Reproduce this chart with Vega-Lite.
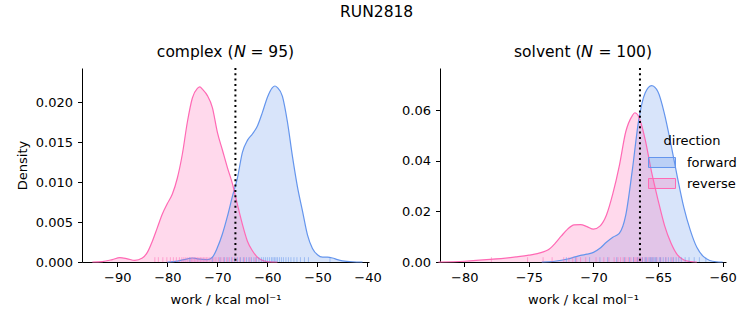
{
  "$schema": "https://vega.github.io/schema/vega-lite/v6.json",
  "padding": {"left": 16, "top": 5, "right": 5, "bottom": 5},
  "title": {"text": "RUN2818", "fontSize": 15.5, "fontWeight": "normal", "font": "DejaVu Sans", "color": "black", "anchor": "middle", "offset": 24},
  "datasets": {
    "curves": [
      {"panel": "complex", "direction": "forward", "work": -80, "density": 0},
      {"panel": "complex", "direction": "forward", "work": -78, "density": 0.0001},
      {"panel": "complex", "direction": "forward", "work": -76, "density": 0.0004},
      {"panel": "complex", "direction": "forward", "work": -75, "density": 0.0005},
      {"panel": "complex", "direction": "forward", "work": -74, "density": 0.0004},
      {"panel": "complex", "direction": "forward", "work": -72, "density": 0.0003},
      {"panel": "complex", "direction": "forward", "work": -71, "density": 0.0006},
      {"panel": "complex", "direction": "forward", "work": -70, "density": 0.0018},
      {"panel": "complex", "direction": "forward", "work": -69, "density": 0.0035},
      {"panel": "complex", "direction": "forward", "work": -68, "density": 0.0057},
      {"panel": "complex", "direction": "forward", "work": -67, "density": 0.0082},
      {"panel": "complex", "direction": "forward", "work": -66, "density": 0.0105},
      {"panel": "complex", "direction": "forward", "work": -65, "density": 0.0137},
      {"panel": "complex", "direction": "forward", "work": -64, "density": 0.0152},
      {"panel": "complex", "direction": "forward", "work": -63, "density": 0.016},
      {"panel": "complex", "direction": "forward", "work": -62, "density": 0.017},
      {"panel": "complex", "direction": "forward", "work": -61, "density": 0.0187},
      {"panel": "complex", "direction": "forward", "work": -60, "density": 0.0206},
      {"panel": "complex", "direction": "forward", "work": -59, "density": 0.0218},
      {"panel": "complex", "direction": "forward", "work": -58.5, "density": 0.022},
      {"panel": "complex", "direction": "forward", "work": -58, "density": 0.0218},
      {"panel": "complex", "direction": "forward", "work": -57, "density": 0.0207},
      {"panel": "complex", "direction": "forward", "work": -56, "density": 0.0175},
      {"panel": "complex", "direction": "forward", "work": -55, "density": 0.0132},
      {"panel": "complex", "direction": "forward", "work": -54, "density": 0.0094},
      {"panel": "complex", "direction": "forward", "work": -53, "density": 0.0064},
      {"panel": "complex", "direction": "forward", "work": -52, "density": 0.0034},
      {"panel": "complex", "direction": "forward", "work": -51, "density": 0.0017},
      {"panel": "complex", "direction": "forward", "work": -50, "density": 0.0009},
      {"panel": "complex", "direction": "forward", "work": -49, "density": 0.0006},
      {"panel": "complex", "direction": "forward", "work": -48, "density": 0.0006},
      {"panel": "complex", "direction": "forward", "work": -47, "density": 0.0005},
      {"panel": "complex", "direction": "forward", "work": -46, "density": 0.0003},
      {"panel": "complex", "direction": "forward", "work": -45, "density": 0.00015},
      {"panel": "complex", "direction": "forward", "work": -43, "density": 0.00003},
      {"panel": "complex", "direction": "forward", "work": -41, "density": 0},
      {"panel": "complex", "direction": "reverse", "work": -95, "density": 0},
      {"panel": "complex", "direction": "reverse", "work": -93, "density": 0.00005},
      {"panel": "complex", "direction": "reverse", "work": -91, "density": 0.0003},
      {"panel": "complex", "direction": "reverse", "work": -89.5, "density": 0.00055},
      {"panel": "complex", "direction": "reverse", "work": -88, "density": 0.0004},
      {"panel": "complex", "direction": "reverse", "work": -86.5, "density": 0.0002},
      {"panel": "complex", "direction": "reverse", "work": -85, "density": 0.0005},
      {"panel": "complex", "direction": "reverse", "work": -84, "density": 0.0012},
      {"panel": "complex", "direction": "reverse", "work": -83, "density": 0.0026},
      {"panel": "complex", "direction": "reverse", "work": -82, "density": 0.0043},
      {"panel": "complex", "direction": "reverse", "work": -81, "density": 0.006},
      {"panel": "complex", "direction": "reverse", "work": -80, "density": 0.0073},
      {"panel": "complex", "direction": "reverse", "work": -79, "density": 0.0085},
      {"panel": "complex", "direction": "reverse", "work": -78, "density": 0.0105},
      {"panel": "complex", "direction": "reverse", "work": -77, "density": 0.0135},
      {"panel": "complex", "direction": "reverse", "work": -76, "density": 0.0175},
      {"panel": "complex", "direction": "reverse", "work": -75, "density": 0.0205},
      {"panel": "complex", "direction": "reverse", "work": -74, "density": 0.0217},
      {"panel": "complex", "direction": "reverse", "work": -73.5, "density": 0.0219},
      {"panel": "complex", "direction": "reverse", "work": -73, "density": 0.0216},
      {"panel": "complex", "direction": "reverse", "work": -72, "density": 0.0208},
      {"panel": "complex", "direction": "reverse", "work": -71, "density": 0.0193},
      {"panel": "complex", "direction": "reverse", "work": -70, "density": 0.0162},
      {"panel": "complex", "direction": "reverse", "work": -69, "density": 0.014},
      {"panel": "complex", "direction": "reverse", "work": -68, "density": 0.0118},
      {"panel": "complex", "direction": "reverse", "work": -67, "density": 0.0098},
      {"panel": "complex", "direction": "reverse", "work": -66, "density": 0.0072},
      {"panel": "complex", "direction": "reverse", "work": -65, "density": 0.0047},
      {"panel": "complex", "direction": "reverse", "work": -64, "density": 0.0026},
      {"panel": "complex", "direction": "reverse", "work": -63, "density": 0.0014},
      {"panel": "complex", "direction": "reverse", "work": -62, "density": 0.0006},
      {"panel": "complex", "direction": "reverse", "work": -61, "density": 0.0002},
      {"panel": "complex", "direction": "reverse", "work": -60, "density": 0.00005},
      {"panel": "complex", "direction": "reverse", "work": -58, "density": 0},
      {"panel": "solvent", "direction": "forward", "work": -74, "density": 0},
      {"panel": "solvent", "direction": "forward", "work": -73, "density": 0.0003},
      {"panel": "solvent", "direction": "forward", "work": -72, "density": 0.0012},
      {"panel": "solvent", "direction": "forward", "work": -71.5, "density": 0.0019},
      {"panel": "solvent", "direction": "forward", "work": -71, "density": 0.0026},
      {"panel": "solvent", "direction": "forward", "work": -70.5, "density": 0.0031},
      {"panel": "solvent", "direction": "forward", "work": -70, "density": 0.0038},
      {"panel": "solvent", "direction": "forward", "work": -69.5, "density": 0.0054},
      {"panel": "solvent", "direction": "forward", "work": -69, "density": 0.0078},
      {"panel": "solvent", "direction": "forward", "work": -68.5, "density": 0.0098},
      {"panel": "solvent", "direction": "forward", "work": -68, "density": 0.0113},
      {"panel": "solvent", "direction": "forward", "work": -67.5, "density": 0.0185},
      {"panel": "solvent", "direction": "forward", "work": -67, "density": 0.036},
      {"panel": "solvent", "direction": "forward", "work": -66.5, "density": 0.056},
      {"panel": "solvent", "direction": "forward", "work": -66, "density": 0.0668},
      {"panel": "solvent", "direction": "forward", "work": -65.5, "density": 0.0697},
      {"panel": "solvent", "direction": "forward", "work": -65, "density": 0.0672},
      {"panel": "solvent", "direction": "forward", "work": -64.5, "density": 0.0585},
      {"panel": "solvent", "direction": "forward", "work": -64, "density": 0.0465},
      {"panel": "solvent", "direction": "forward", "work": -63.5, "density": 0.0335},
      {"panel": "solvent", "direction": "forward", "work": -63, "density": 0.0215},
      {"panel": "solvent", "direction": "forward", "work": -62.5, "density": 0.0125},
      {"panel": "solvent", "direction": "forward", "work": -62, "density": 0.0058},
      {"panel": "solvent", "direction": "forward", "work": -61.5, "density": 0.0022},
      {"panel": "solvent", "direction": "forward", "work": -61, "density": 0.0006},
      {"panel": "solvent", "direction": "forward", "work": -60.5, "density": 0.0001},
      {"panel": "solvent", "direction": "forward", "work": -60, "density": 0},
      {"panel": "solvent", "direction": "reverse", "work": -82, "density": 0},
      {"panel": "solvent", "direction": "reverse", "work": -80, "density": 0.0003},
      {"panel": "solvent", "direction": "reverse", "work": -78, "density": 0.001},
      {"panel": "solvent", "direction": "reverse", "work": -76, "density": 0.002},
      {"panel": "solvent", "direction": "reverse", "work": -75, "density": 0.0027},
      {"panel": "solvent", "direction": "reverse", "work": -74, "density": 0.0038},
      {"panel": "solvent", "direction": "reverse", "work": -73.5, "density": 0.0048},
      {"panel": "solvent", "direction": "reverse", "work": -73, "density": 0.0072},
      {"panel": "solvent", "direction": "reverse", "work": -72.5, "density": 0.0102},
      {"panel": "solvent", "direction": "reverse", "work": -72, "density": 0.013},
      {"panel": "solvent", "direction": "reverse", "work": -71.5, "density": 0.0147},
      {"panel": "solvent", "direction": "reverse", "work": -71, "density": 0.0148},
      {"panel": "solvent", "direction": "reverse", "work": -70.5, "density": 0.014},
      {"panel": "solvent", "direction": "reverse", "work": -70, "density": 0.013},
      {"panel": "solvent", "direction": "reverse", "work": -69.5, "density": 0.0142},
      {"panel": "solvent", "direction": "reverse", "work": -69, "density": 0.0185},
      {"panel": "solvent", "direction": "reverse", "work": -68.5, "density": 0.027},
      {"panel": "solvent", "direction": "reverse", "work": -68, "density": 0.038},
      {"panel": "solvent", "direction": "reverse", "work": -67.5, "density": 0.0515},
      {"panel": "solvent", "direction": "reverse", "work": -67, "density": 0.0578},
      {"panel": "solvent", "direction": "reverse", "work": -66.8, "density": 0.059},
      {"panel": "solvent", "direction": "reverse", "work": -66.5, "density": 0.0575},
      {"panel": "solvent", "direction": "reverse", "work": -66, "density": 0.0485},
      {"panel": "solvent", "direction": "reverse", "work": -65.5, "density": 0.0355},
      {"panel": "solvent", "direction": "reverse", "work": -65, "density": 0.0245},
      {"panel": "solvent", "direction": "reverse", "work": -64.5, "density": 0.0145},
      {"panel": "solvent", "direction": "reverse", "work": -64, "density": 0.0075},
      {"panel": "solvent", "direction": "reverse", "work": -63.5, "density": 0.0028},
      {"panel": "solvent", "direction": "reverse", "work": -63, "density": 0.0008},
      {"panel": "solvent", "direction": "reverse", "work": -62.5, "density": 0.0002},
      {"panel": "solvent", "direction": "reverse", "work": -62, "density": 0}
    ],
    "rug": [
      {"panel": "complex", "direction": "reverse", "work": -82.5}, {"panel": "complex", "direction": "reverse", "work": -81.8}, {"panel": "complex", "direction": "reverse", "work": -80.9}, {"panel": "complex", "direction": "reverse", "work": -80.1}, {"panel": "complex", "direction": "reverse", "work": -79.4}, {"panel": "complex", "direction": "reverse", "work": -78.8}, {"panel": "complex", "direction": "reverse", "work": -78.2}, {"panel": "complex", "direction": "reverse", "work": -77.6}, {"panel": "complex", "direction": "reverse", "work": -77.1}, {"panel": "complex", "direction": "reverse", "work": -76.7}, {"panel": "complex", "direction": "reverse", "work": -76.3}, {"panel": "complex", "direction": "reverse", "work": -75.9}, {"panel": "complex", "direction": "reverse", "work": -75.5}, {"panel": "complex", "direction": "reverse", "work": -75.2}, {"panel": "complex", "direction": "reverse", "work": -74.9}, {"panel": "complex", "direction": "reverse", "work": -74.6}, {"panel": "complex", "direction": "reverse", "work": -74.3}, {"panel": "complex", "direction": "reverse", "work": -74.0}, {"panel": "complex", "direction": "reverse", "work": -73.7}, {"panel": "complex", "direction": "reverse", "work": -73.4}, {"panel": "complex", "direction": "reverse", "work": -73.1}, {"panel": "complex", "direction": "reverse", "work": -72.8}, {"panel": "complex", "direction": "reverse", "work": -72.5}, {"panel": "complex", "direction": "reverse", "work": -72.2}, {"panel": "complex", "direction": "reverse", "work": -71.9}, {"panel": "complex", "direction": "reverse", "work": -71.5}, {"panel": "complex", "direction": "reverse", "work": -71.1}, {"panel": "complex", "direction": "reverse", "work": -70.7}, {"panel": "complex", "direction": "reverse", "work": -70.3}, {"panel": "complex", "direction": "reverse", "work": -69.8}, {"panel": "complex", "direction": "reverse", "work": -69.3}, {"panel": "complex", "direction": "reverse", "work": -68.8}, {"panel": "complex", "direction": "reverse", "work": -68.2}, {"panel": "complex", "direction": "reverse", "work": -67.6}, {"panel": "complex", "direction": "reverse", "work": -67.0}, {"panel": "complex", "direction": "reverse", "work": -66.3}, {"panel": "complex", "direction": "reverse", "work": -65.5}, {"panel": "complex", "direction": "reverse", "work": -64.6}, {"panel": "complex", "direction": "reverse", "work": -63.5}, {"panel": "complex", "direction": "reverse", "work": -62.4},
      {"panel": "complex", "direction": "forward", "work": -75.5}, {"panel": "complex", "direction": "forward", "work": -71.0}, {"panel": "complex", "direction": "forward", "work": -69.5}, {"panel": "complex", "direction": "forward", "work": -68.6}, {"panel": "complex", "direction": "forward", "work": -67.9}, {"panel": "complex", "direction": "forward", "work": -67.2}, {"panel": "complex", "direction": "forward", "work": -66.6}, {"panel": "complex", "direction": "forward", "work": -66.0}, {"panel": "complex", "direction": "forward", "work": -65.4}, {"panel": "complex", "direction": "forward", "work": -64.8}, {"panel": "complex", "direction": "forward", "work": -64.2}, {"panel": "complex", "direction": "forward", "work": -63.7}, {"panel": "complex", "direction": "forward", "work": -63.2}, {"panel": "complex", "direction": "forward", "work": -62.7}, {"panel": "complex", "direction": "forward", "work": -62.2}, {"panel": "complex", "direction": "forward", "work": -61.7}, {"panel": "complex", "direction": "forward", "work": -61.2}, {"panel": "complex", "direction": "forward", "work": -60.8}, {"panel": "complex", "direction": "forward", "work": -60.4}, {"panel": "complex", "direction": "forward", "work": -60.0}, {"panel": "complex", "direction": "forward", "work": -59.6}, {"panel": "complex", "direction": "forward", "work": -59.2}, {"panel": "complex", "direction": "forward", "work": -58.9}, {"panel": "complex", "direction": "forward", "work": -58.6}, {"panel": "complex", "direction": "forward", "work": -58.3}, {"panel": "complex", "direction": "forward", "work": -58.0}, {"panel": "complex", "direction": "forward", "work": -57.6}, {"panel": "complex", "direction": "forward", "work": -57.2}, {"panel": "complex", "direction": "forward", "work": -56.8}, {"panel": "complex", "direction": "forward", "work": -56.3}, {"panel": "complex", "direction": "forward", "work": -55.8}, {"panel": "complex", "direction": "forward", "work": -55.3}, {"panel": "complex", "direction": "forward", "work": -54.7}, {"panel": "complex", "direction": "forward", "work": -54.1}, {"panel": "complex", "direction": "forward", "work": -53.4}, {"panel": "complex", "direction": "forward", "work": -52.6}, {"panel": "complex", "direction": "forward", "work": -51.8}, {"panel": "complex", "direction": "forward", "work": -47.5},
      {"panel": "solvent", "direction": "reverse", "work": -77.9}, {"panel": "solvent", "direction": "reverse", "work": -75.1}, {"panel": "solvent", "direction": "reverse", "work": -73.9}, {"panel": "solvent", "direction": "reverse", "work": -73.2}, {"panel": "solvent", "direction": "reverse", "work": -72.3}, {"panel": "solvent", "direction": "reverse", "work": -71.9}, {"panel": "solvent", "direction": "reverse", "work": -71.6}, {"panel": "solvent", "direction": "reverse", "work": -71.3}, {"panel": "solvent", "direction": "reverse", "work": -71.0}, {"panel": "solvent", "direction": "reverse", "work": -70.6}, {"panel": "solvent", "direction": "reverse", "work": -69.8}, {"panel": "solvent", "direction": "reverse", "work": -69.2}, {"panel": "solvent", "direction": "reverse", "work": -68.8}, {"panel": "solvent", "direction": "reverse", "work": -68.4}, {"panel": "solvent", "direction": "reverse", "work": -68.1}, {"panel": "solvent", "direction": "reverse", "work": -67.9}, {"panel": "solvent", "direction": "reverse", "work": -67.7}, {"panel": "solvent", "direction": "reverse", "work": -67.5}, {"panel": "solvent", "direction": "reverse", "work": -67.3}, {"panel": "solvent", "direction": "reverse", "work": -67.1}, {"panel": "solvent", "direction": "reverse", "work": -66.9}, {"panel": "solvent", "direction": "reverse", "work": -66.8}, {"panel": "solvent", "direction": "reverse", "work": -66.7}, {"panel": "solvent", "direction": "reverse", "work": -66.6}, {"panel": "solvent", "direction": "reverse", "work": -66.5}, {"panel": "solvent", "direction": "reverse", "work": -66.4}, {"panel": "solvent", "direction": "reverse", "work": -66.3}, {"panel": "solvent", "direction": "reverse", "work": -66.2}, {"panel": "solvent", "direction": "reverse", "work": -66.0}, {"panel": "solvent", "direction": "reverse", "work": -65.8}, {"panel": "solvent", "direction": "reverse", "work": -65.6}, {"panel": "solvent", "direction": "reverse", "work": -65.4}, {"panel": "solvent", "direction": "reverse", "work": -65.1}, {"panel": "solvent", "direction": "reverse", "work": -64.8}, {"panel": "solvent", "direction": "reverse", "work": -64.4}, {"panel": "solvent", "direction": "reverse", "work": -63.9},
      {"panel": "solvent", "direction": "forward", "work": -72.1}, {"panel": "solvent", "direction": "forward", "work": -71.4}, {"panel": "solvent", "direction": "forward", "work": -70.3}, {"panel": "solvent", "direction": "forward", "work": -69.5}, {"panel": "solvent", "direction": "forward", "work": -68.9}, {"panel": "solvent", "direction": "forward", "work": -68.2}, {"panel": "solvent", "direction": "forward", "work": -67.6}, {"panel": "solvent", "direction": "forward", "work": -67.2}, {"panel": "solvent", "direction": "forward", "work": -66.9}, {"panel": "solvent", "direction": "forward", "work": -66.6}, {"panel": "solvent", "direction": "forward", "work": -66.4}, {"panel": "solvent", "direction": "forward", "work": -66.2}, {"panel": "solvent", "direction": "forward", "work": -66.0}, {"panel": "solvent", "direction": "forward", "work": -65.9}, {"panel": "solvent", "direction": "forward", "work": -65.7}, {"panel": "solvent", "direction": "forward", "work": -65.6}, {"panel": "solvent", "direction": "forward", "work": -65.5}, {"panel": "solvent", "direction": "forward", "work": -65.4}, {"panel": "solvent", "direction": "forward", "work": -65.3}, {"panel": "solvent", "direction": "forward", "work": -65.2}, {"panel": "solvent", "direction": "forward", "work": -65.1}, {"panel": "solvent", "direction": "forward", "work": -64.9}, {"panel": "solvent", "direction": "forward", "work": -64.8}, {"panel": "solvent", "direction": "forward", "work": -64.6}, {"panel": "solvent", "direction": "forward", "work": -64.4}, {"panel": "solvent", "direction": "forward", "work": -64.2}, {"panel": "solvent", "direction": "forward", "work": -64.0}, {"panel": "solvent", "direction": "forward", "work": -63.8}, {"panel": "solvent", "direction": "forward", "work": -63.6}, {"panel": "solvent", "direction": "forward", "work": -63.4}, {"panel": "solvent", "direction": "forward", "work": -63.2}, {"panel": "solvent", "direction": "forward", "work": -62.9}, {"panel": "solvent", "direction": "forward", "work": -62.6}, {"panel": "solvent", "direction": "forward", "work": -62.2}, {"panel": "solvent", "direction": "forward", "work": -61.8}, {"panel": "solvent", "direction": "forward", "work": -61.3}
    ],
    "refs": [
      {"panel": "complex", "ref": -66.4},
      {"panel": "solvent", "ref": -66.4}
    ]
  },
  "spacing": 71,
  "bounds": "flush",
  "resolve": {"legend": {"color": "independent"}},
  "hconcat": [
    {
      "width": 287,
      "height": 194,
      "title": {"text": "complex (𝘕 = 95)", "offset": 7},
      "layer": [
        {
          "data": {"name": "curves"},
          "transform": [{"filter": "datum.panel === 'complex'"}],
          "mark": {"type": "area", "fillOpacity": 0.25, "interpolate": "monotone"},
          "encoding": {
            "x": {"field": "work", "type": "quantitative", "scale": {"domain": [-97.06, -39.7], "nice": false, "zero": false}, "axis": {"values": [-90, -80, -70, -60, -50, -40], "title": "work / kcal mol⁻¹"}},
            "y": {"field": "density", "type": "quantitative", "stack": null, "scale": {"domain": [0, 0.02425], "nice": false}, "axis": {"values": [0, 0.005, 0.01, 0.015, 0.02], "format": ".3f", "title": "Density"}},
            "color": {"field": "direction", "type": "nominal", "scale": {"domain": ["forward", "reverse"], "range": ["#6495ED", "#FF69B4"]}, "legend": null}
          }
        },
        {
          "data": {"name": "curves"},
          "transform": [{"filter": "datum.panel === 'complex'"}],
          "mark": {"type": "line", "strokeWidth": 1.2, "interpolate": "monotone"},
          "encoding": {
            "x": {"field": "work", "type": "quantitative"},
            "y": {"field": "density", "type": "quantitative"},
            "color": {"field": "direction", "type": "nominal", "legend": null}
          }
        },
        {
          "data": {"name": "rug"},
          "transform": [{"filter": "datum.panel === 'complex'"}],
          "mark": {"type": "rule", "strokeWidth": 1, "opacity": 0.5},
          "encoding": {
            "x": {"field": "work", "type": "quantitative"},
            "y": {"datum": 0},
            "y2": {"datum": 0.0006},
            "color": {"field": "direction", "type": "nominal", "legend": null}
          }
        },
        {
          "data": {"name": "refs"},
          "transform": [{"filter": "datum.panel === 'complex'"}],
          "mark": {"type": "rule", "color": "black", "strokeWidth": 2, "strokeDash": [2, 3.3]},
          "encoding": {
            "x": {"field": "ref", "type": "quantitative"}
          }
        }
      ]
    },
    {
      "width": 286,
      "height": 194,
      "title": {"text": "solvent (𝘕 = 100)", "offset": 7},
      "layer": [
        {
          "data": {"name": "curves"},
          "transform": [{"filter": "datum.panel === 'solvent'"}],
          "mark": {"type": "area", "fillOpacity": 0.25, "interpolate": "monotone"},
          "encoding": {
            "x": {"field": "work", "type": "quantitative", "scale": {"domain": [-81.88, -59.74], "nice": false, "zero": false}, "axis": {"values": [-80, -75, -70, -65, -60], "title": "work / kcal mol⁻¹"}},
            "y": {"field": "density", "type": "quantitative", "stack": null, "scale": {"domain": [0, 0.0767], "nice": false}, "axis": {"values": [0, 0.02, 0.04, 0.06], "format": ".2f", "title": null}},
            "color": {"field": "direction", "type": "nominal", "scale": {"domain": ["forward", "reverse"], "range": ["#6495ED", "#FF69B4"]},
              "legend": {
                "title": "direction",
                "orient": "none",
                "legendX": 208,
                "legendY": 67,
                "titleAnchor": "middle",
                "titlePadding": 0.5,
                "symbolType": "M-1,-0.37H1V0.37H-1Z",
                "symbolSize": 729,
                "symbolStrokeWidth": 1,
                "labelOffset": 11,
                "rowPadding": -1,
                "encode": {"symbols": {"update": {"fillOpacity": {"value": 0.25}, "strokeOpacity": {"value": 1}, "opacity": {"value": 1}}}}
              }
            }
          }
        },
        {
          "data": {"name": "curves"},
          "transform": [{"filter": "datum.panel === 'solvent'"}],
          "mark": {"type": "line", "strokeWidth": 1.2, "interpolate": "monotone"},
          "encoding": {
            "x": {"field": "work", "type": "quantitative"},
            "y": {"field": "density", "type": "quantitative"},
            "color": {"field": "direction", "type": "nominal"}
          }
        },
        {
          "data": {"name": "rug"},
          "transform": [{"filter": "datum.panel === 'solvent'"}],
          "mark": {"type": "rule", "strokeWidth": 1, "opacity": 0.5},
          "encoding": {
            "x": {"field": "work", "type": "quantitative"},
            "y": {"datum": 0},
            "y2": {"datum": 0.0019},
            "color": {"field": "direction", "type": "nominal"}
          }
        },
        {
          "data": {"name": "refs"},
          "transform": [{"filter": "datum.panel === 'solvent'"}],
          "mark": {"type": "rule", "color": "black", "strokeWidth": 2, "strokeDash": [2, 3.3]},
          "encoding": {
            "x": {"field": "ref", "type": "quantitative"}
          }
        }
      ]
    }
  ],
  "config": {
    "font": "DejaVu Sans",
    "view": {"stroke": null},
    "title": {"fontSize": 15.5, "fontWeight": "normal", "color": "black", "font": "DejaVu Sans"},
    "axis": {
      "labelFont": "DejaVu Sans", "titleFont": "DejaVu Sans",
      "labelFontSize": 13, "titleFontSize": 13, "titleFontWeight": "normal",
      "labelColor": "black", "titleColor": "black",
      "domainColor": "black", "tickColor": "black", "domainWidth": 1, "tickWidth": 1,
      "tickSize": 4.5, "labelPadding": 5, "titlePadding": 6, "grid": false, "labelFlush": false, "labelOverlap": false
    },
    "axisX": {"titlePadding": 9},
    "legend": {"labelFontSize": 13, "titleFontSize": 13, "titleFontWeight": "normal", "labelColor": "black", "titleColor": "black", "labelFont": "DejaVu Sans", "titleFont": "DejaVu Sans"}
  }
}
